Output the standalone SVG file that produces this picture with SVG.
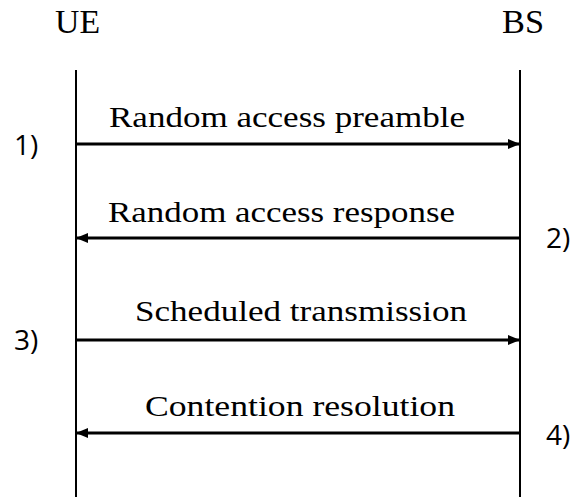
<svg xmlns="http://www.w3.org/2000/svg" width="585" height="497" viewBox="0 0 585 497">
  <style>
    .life { stroke: #000; stroke-width: 2; fill: none; }
    .arrow { stroke: #000; stroke-width: 3; fill: none; marker-end: url(#head); }
  </style>
  <defs>
    <marker id="head" markerWidth="12" markerHeight="10" refX="11" refY="5" orient="auto" markerUnits="userSpaceOnUse">
      <path d="M0,0 L12,5 L0,10 Z" fill="#000"/>
    </marker>
  </defs>
  <rect width="585" height="497" fill="#fff"/>

  <!-- lifelines -->
  <g id="ue">
    <text x="55" y="33" font-family="Liberation Serif, Times New Roman, serif" font-size="34" textLength="45" lengthAdjust="spacingAndGlyphs" fill="#000">UE</text>
    <line class="life" x1="76" y1="70" x2="76" y2="497"/>
  </g>
  <g id="bs">
    <text x="502" y="33" font-family="Liberation Serif, Times New Roman, serif" font-size="34" textLength="42" lengthAdjust="spacingAndGlyphs" fill="#000">BS</text>
    <line class="life" x1="520" y1="70" x2="520" y2="497"/>
  </g>

  <!-- messages -->
  <g id="connectors">
    <line class="arrow" x1="77" y1="144" x2="519" y2="144"/>
    <line class="arrow" x1="519" y1="238" x2="77" y2="238"/>
    <line class="arrow" x1="77" y1="340" x2="519" y2="340"/>
    <line class="arrow" x1="519" y1="433" x2="77" y2="433"/>
  </g>

  <g id="labels" font-family="Liberation Serif, Times New Roman, serif" font-size="30" fill="#000" lengthAdjust="spacingAndGlyphs">
    <text x="109" y="127" textLength="356" lengthAdjust="spacingAndGlyphs">Random access preamble</text>
    <text x="108" y="222" textLength="347" lengthAdjust="spacingAndGlyphs">Random access response</text>
    <text x="135" y="321" textLength="332" lengthAdjust="spacingAndGlyphs">Scheduled transmission</text>
    <text x="145" y="416" textLength="310" lengthAdjust="spacingAndGlyphs">Contention resolution</text>
  </g>

  <!-- step numbers -->
  <g id="steps" font-family="Open Sans, Noto Sans, sans-serif" font-size="28" fill="#000">
    <text x="14" y="155">1)</text>
    <text x="546" y="248">2)</text>
    <text x="14" y="350">3)</text>
    <text x="546" y="445">4)</text>
  </g>
</svg>
